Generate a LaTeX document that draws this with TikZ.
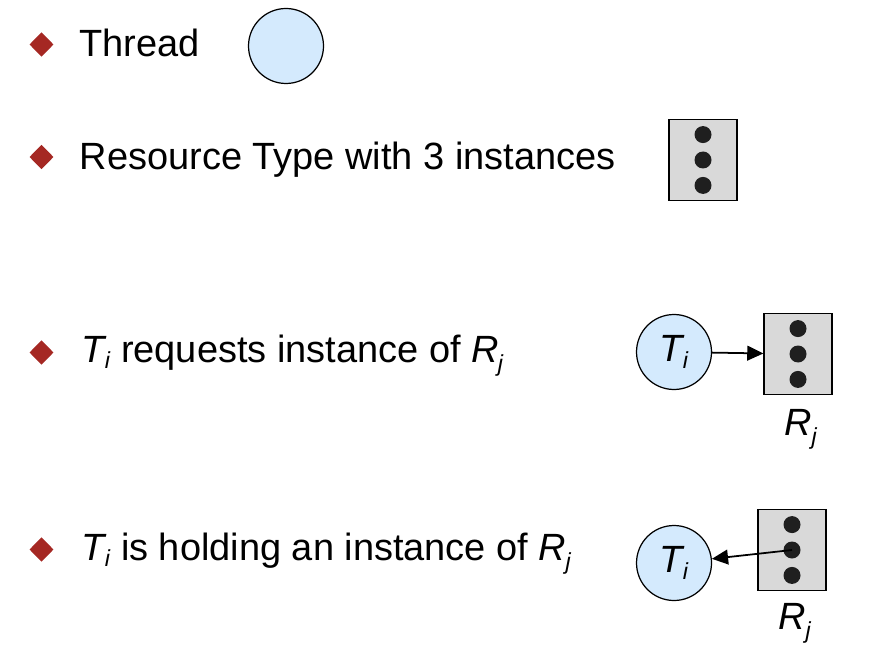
\documentclass[tikz,border=0pt]{standalone}
\usepackage{fontspec}
\setmainfont{Liberation Sans}
\usepackage{xcolor}
\usepackage{tikz}
\usetikzlibrary{arrows.meta,positioning,shapes.geometric}

\definecolor{threadblue}{RGB}{212,234,253}
\definecolor{resgray}{RGB}{217,217,217}
\definecolor{bulletred}{RGB}{165,40,35}
\newcommand{\Ti}{\textit{T}\kern-0.06em\raisebox{-1.8pt}{\fontsize{6.6}{8}\selectfont\textit{i}}}
\newcommand{\Rj}{\textit{R}\kern-0.02em\raisebox{-2.8pt}{\fontsize{6.6}{8}\selectfont\textit{j}}}

\begin{document}
\begin{tikzpicture}[x=1cm, y=-1cm, font=\fontsize{10.8}{13}\selectfont,
    thread/.style={draw, circle, fill=threadblue, minimum size=0.75cm, inner sep=0pt, line width=0.35pt, text centered, text=black},
    resource/.style={draw, rectangle, fill=resgray, minimum width=0.68cm, minimum height=0.81cm, inner sep=0pt, line width=0.35pt},
    instance/.style={circle, fill=black!88, minimum size=0.17cm, inner sep=0pt},
    bullet/.style={diamond, fill=bulletred, minimum width=0.245cm, minimum height=0.25cm, inner sep=0pt},
    item/.style={anchor=base west, inner sep=0pt},
    edge/.style={-{Triangle[length=4.6pt, width=4.2pt]}, line width=0.5pt}]
                        \useasboundingbox (0, 0) rectangle (8.9, 6.5);
                        % legend
                        \node[bullet] (b1) at (0.415, 0.445) {};
                        \node[item] (l1) at (0.785, 0.57) {Thread};
                        \node[thread] (t0) at (2.86, 0.46) {};
                        \node[bullet] (b2) at (0.415, 1.57) {};
                        \node[item] (l2) at (0.79, 1.695) {Resource Type with 3 instances};
                        \node[resource] (r0) at (7.03, 1.60) {};
                        \node[instance] (r0b) at (r0) {};
                        \node[instance, above=0.07cm of r0b] (r0a) {};
                        \node[instance, below=0.07cm of r0b] (r0c) {};
                        % request edge
                        \node[bullet] (b3) at (0.415, 3.525) {};
                        \node[item] (l3) at (0.81, 3.62) {\Ti\ requests instance of \Rj};
                        \node[thread] (t1) at (6.74, 3.52) {\Ti};
                        \node[resource] (r1) at (7.98, 3.54) {};
                        \node[instance] (r1b) at (r1) {};
                        \node[instance, above=0.07cm of r1b] (r1a) {};
                        \node[instance, below=0.07cm of r1b] (r1c) {};
                        \node[anchor=base, inner sep=0pt] (n1) at (8.01, 4.35) {\Rj};
                        \draw [edge] (t1) -- (r1);
                        % assignment edge
                        \node[bullet] (b4) at (0.415, 5.495) {};
                        \node[item] (l4) at (0.81, 5.60) {\Ti\ is holding an instance of \Rj};
                        \node[thread] (t2) at (6.74, 5.63) {\Ti};
                        \node[resource] (r2) at (7.92, 5.50) {};
                        \node[instance] (r2b) at (r2) {};
                        \node[instance, above=0.07cm of r2b] (r2a) {};
                        \node[instance, below=0.07cm of r2b] (r2c) {};
                        \node[anchor=base, inner sep=0pt] (n2) at (7.95, 6.29) {\Rj};
                        \draw [edge] (r2b.center) -- (t2);
                        \end{tikzpicture}
\end{document}
